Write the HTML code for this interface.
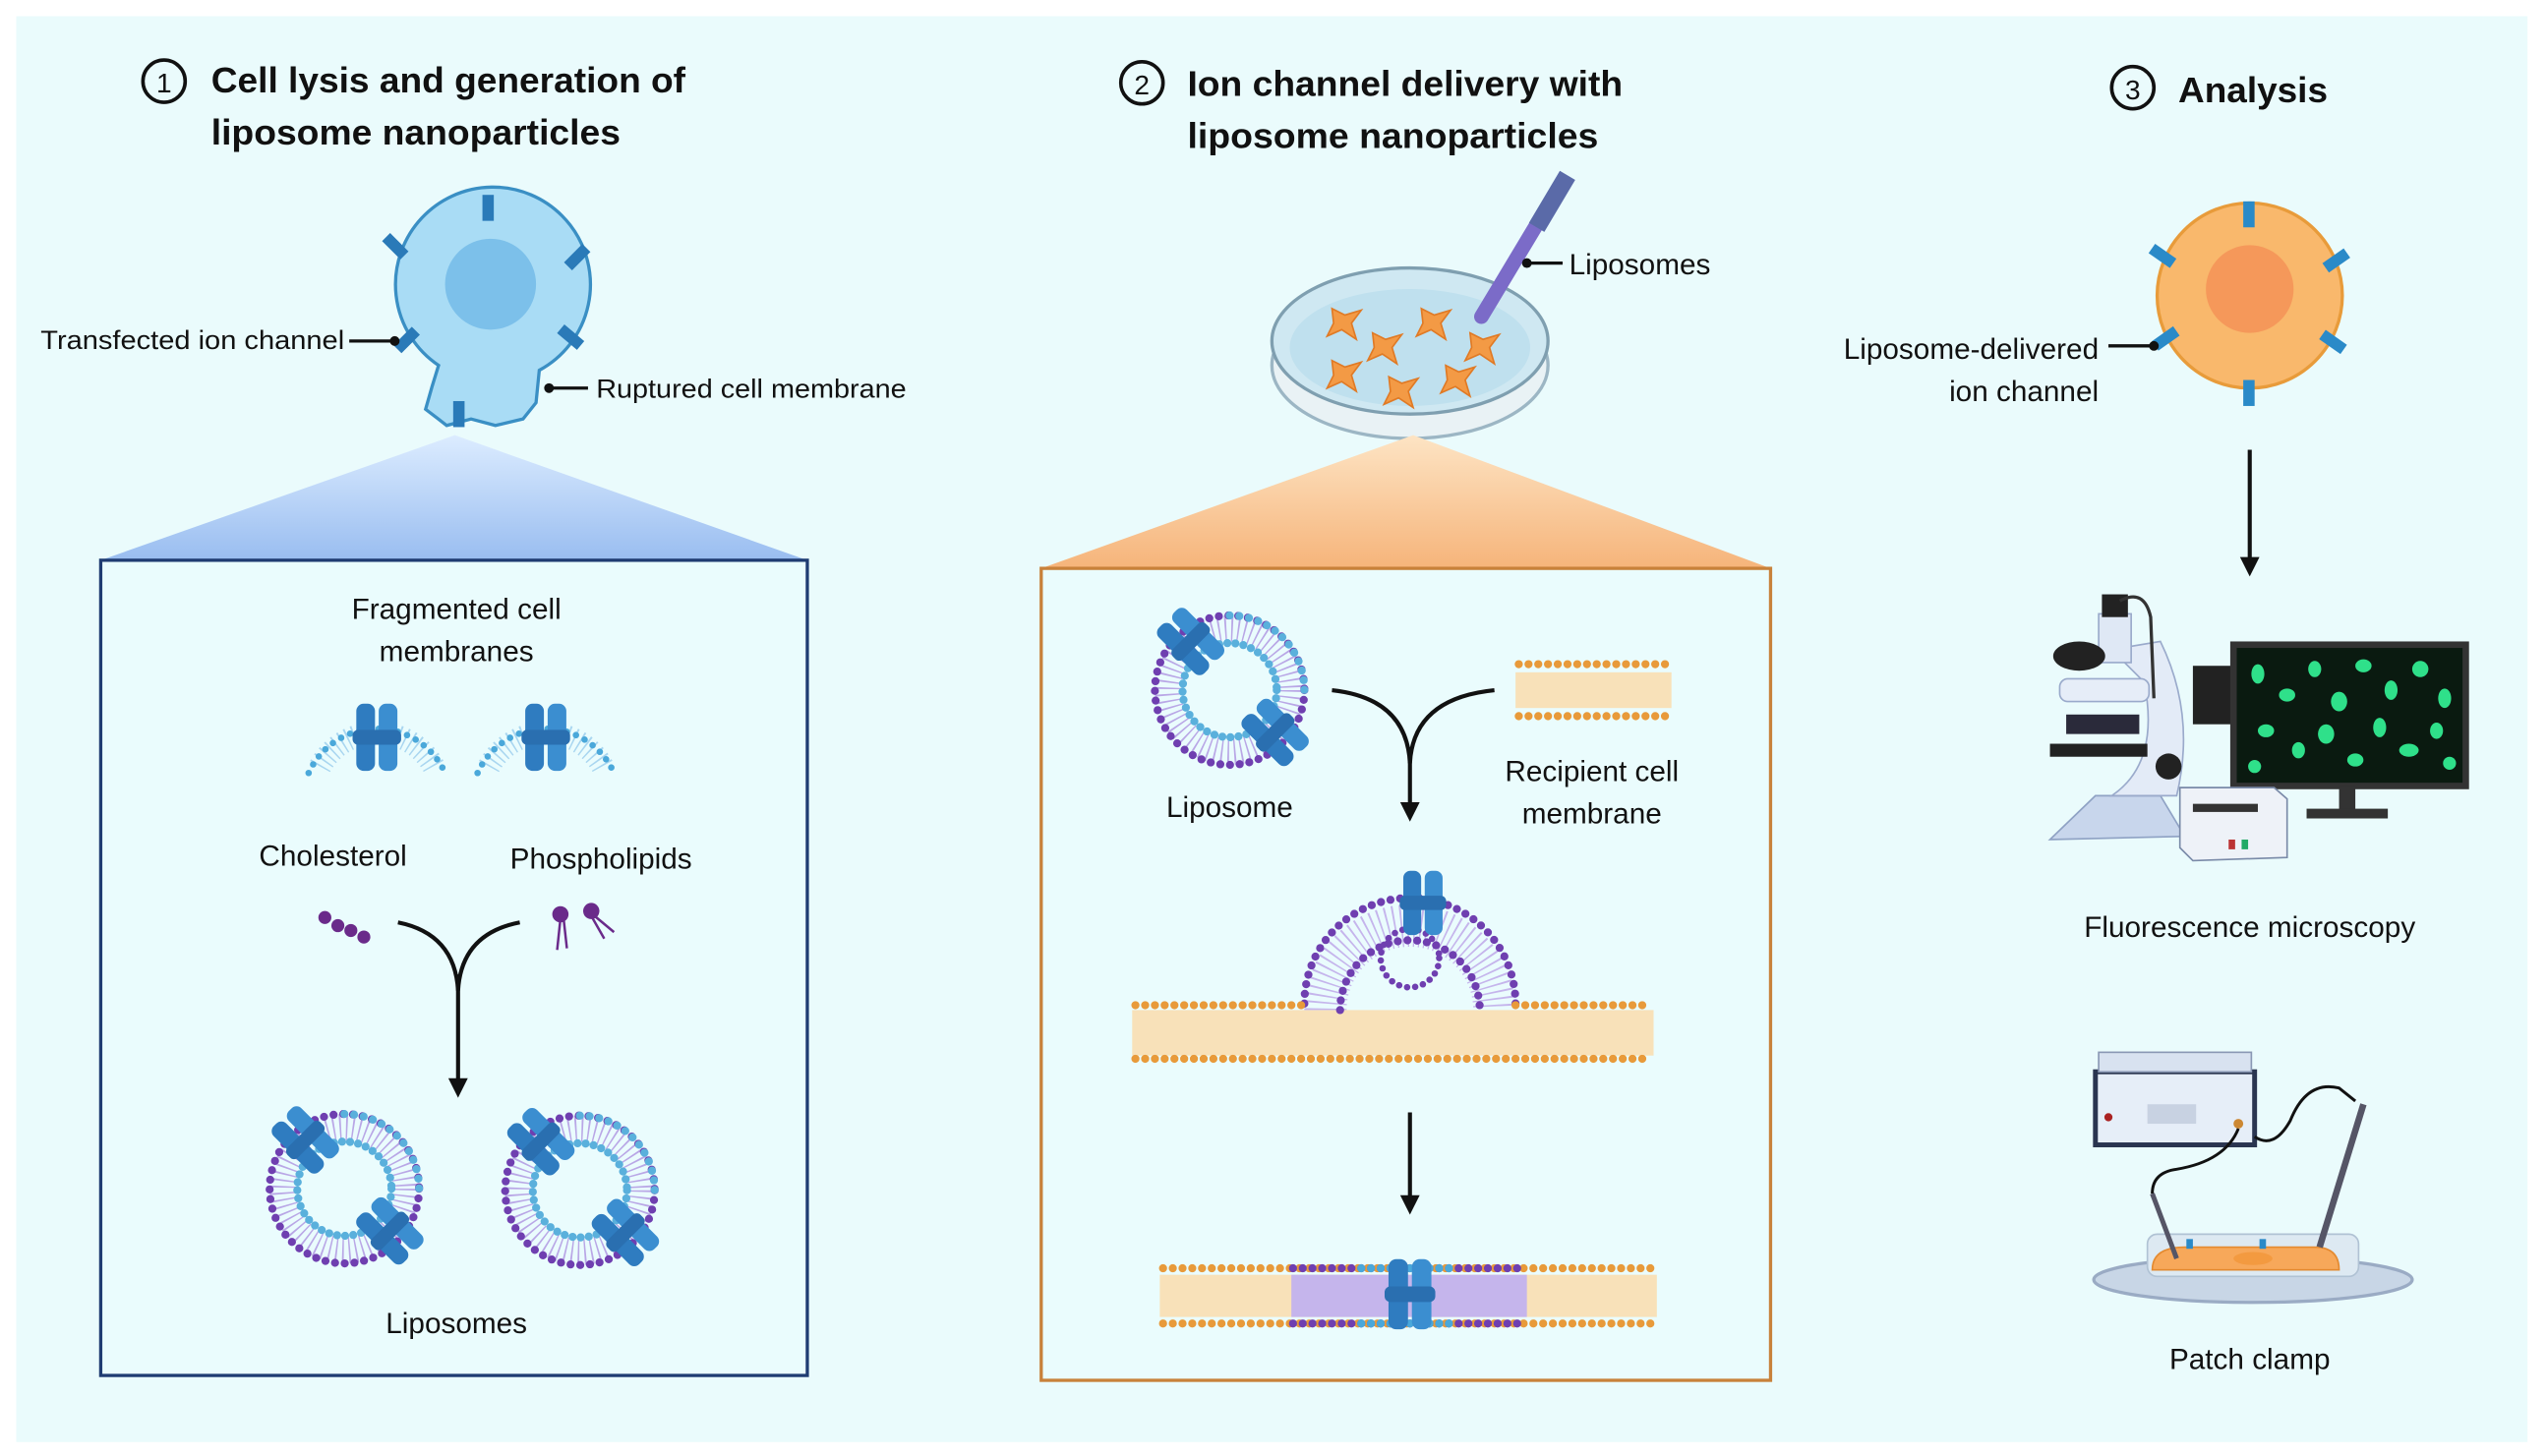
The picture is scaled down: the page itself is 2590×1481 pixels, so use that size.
<!DOCTYPE html>
<html><head><meta charset="utf-8">
<style>
html,body{margin:0;padding:0;background:#fff;}
svg{display:block;}
text{font-family:"Liberation Sans",sans-serif;fill:#111;}
.t{font-weight:bold;font-size:22px;}
.l{font-size:16px;}
.m{font-size:18px;}
</style></head><body>
<svg width="2590" height="1481" viewBox="0 0 1568 896.6" preserveAspectRatio="none" xmlns="http://www.w3.org/2000/svg">
<defs>
<linearGradient id="gb" x1="0" y1="0" x2="0" y2="1"><stop offset="0" stop-color="#dcecff"/><stop offset="1" stop-color="#99bdf0"/></linearGradient>
<linearGradient id="go" x1="0" y1="0" x2="0" y2="1"><stop offset="0" stop-color="#fde4c4"/><stop offset="1" stop-color="#f6b47a"/></linearGradient>
<g id="ch">
<rect x="-11" y="-18" width="10" height="36" rx="4" fill="#2f7cc0"/>
<rect x="1" y="-18" width="10" height="36" rx="4" fill="#3b8ed0"/>
<rect x="-13" y="-4" width="26" height="8" rx="3" fill="#2a6fb0"/>
</g>
<g id="lipo">
<circle r="38" fill="none" stroke="#b9a7e6" stroke-width="16" stroke-dasharray="1 3"/>
<circle r="46" fill="none" stroke="#6f3fb0" stroke-width="5" stroke-linecap="round" stroke-dasharray="0 6"/>
<circle r="29" fill="none" stroke="#5ab0dc" stroke-width="5" stroke-linecap="round" stroke-dasharray="0 5"/>
<path d="M0,-46 A46,46 0 0 1 46,0" fill="none" stroke="#5ab0dc" stroke-width="5" stroke-linecap="round" stroke-dasharray="0 6"/>
<use href="#ch" transform="translate(-24,-30) rotate(-45) scale(1.1)"/>
<use href="#ch" transform="translate(28,26) rotate(-45) scale(1.1)"/>
</g>
<g id="frag">
<path d="M-35,10 A40,40 0 0 1 35,10" fill="none" stroke="#a9d6f0" stroke-width="14" stroke-dasharray="1 3"/>
<path d="M-42,14 A46,46 0 0 1 42,14" fill="none" stroke="#4aa8da" stroke-width="4" stroke-linecap="round" stroke-dasharray="0 6"/>
<use href="#ch" transform="translate(0,-8) scale(1.15)"/>
</g>
</defs>
<rect x="0" y="0" width="1568" height="897" fill="#fff"/>
<rect x="10" y="10" width="1546" height="878" fill="#eafbfc"/>

<!-- Titles -->
<circle cx="101" cy="50" r="13" fill="none" stroke="#111" stroke-width="2.2"/><text x="101" y="57" text-anchor="middle" style="font-size:17px">1</text>
<text class="t" x="130" y="57" textLength="292" lengthAdjust="spacingAndGlyphs">Cell lysis and generation of</text>
<text class="t" x="130" y="89" textLength="252" lengthAdjust="spacingAndGlyphs">liposome nanoparticles</text>
<circle cx="703" cy="51" r="13" fill="none" stroke="#111" stroke-width="2.2"/><text x="703" y="58" text-anchor="middle" style="font-size:17px">2</text>
<text class="t" x="731" y="59" textLength="268" lengthAdjust="spacingAndGlyphs">Ion channel delivery with</text>
<text class="t" x="731" y="91" textLength="253" lengthAdjust="spacingAndGlyphs">liposome nanoparticles</text>
<circle cx="1313" cy="54" r="13" fill="none" stroke="#111" stroke-width="2.2"/><text x="1313" y="61" text-anchor="middle" style="font-size:17px">3</text>
<text class="t" x="1341" y="63" textLength="92" lengthAdjust="spacingAndGlyphs">Analysis</text>

<!-- Cell 1 -->
<path d="M270,225 A60,60 0 1 1 332,228 L330,248 L322,258 L305,262 L290,258 L275,262 L262,252 L266,238 Z" fill="#a9dcf5" stroke="#3a8fc4" stroke-width="2" stroke-dasharray="200 0"/>
<circle cx="302" cy="175" r="28" fill="#7cc0ea"/>
<g fill="#2a7ab8">
<rect x="297" y="120" width="7" height="16"/>
<rect x="240" y="144" width="7" height="16" transform="rotate(-45 243 152)"/>
<rect x="352" y="150" width="7" height="16" transform="rotate(45 355 158)"/>
<rect x="247" y="201" width="7" height="16" transform="rotate(45 250 209)"/>
<rect x="348" y="200" width="7" height="16" transform="rotate(-50 351 208)"/>
<rect x="279" y="247" width="7" height="16"/>
</g>
<text class="l" x="25" y="215" textLength="187" lengthAdjust="spacingAndGlyphs">Transfected ion channel</text>
<line x1="215" y1="210" x2="243" y2="210" stroke="#111" stroke-width="2"/><circle cx="243" cy="210" r="3" fill="#111"/>
<text class="l" x="367" y="245" textLength="191" lengthAdjust="spacingAndGlyphs">Ruptured cell membrane</text>
<line x1="338" y1="239" x2="362" y2="239" stroke="#111" stroke-width="2"/><circle cx="338" cy="239" r="3" fill="#111"/>

<!-- Trapezoid and box 1 -->
<polygon points="280,268 62,345 497,345" fill="url(#gb)"/>
<rect x="62" y="345" width="435" height="502" fill="#eafcfd" stroke="#1f3c72" stroke-width="2"/>
<text class="m" x="281" y="381" text-anchor="middle">Fragmented cell</text>
<text class="m" x="281" y="407" text-anchor="middle">membranes</text>
<use href="#frag" transform="translate(232,462)"/>
<use href="#frag" transform="translate(336,462)"/>
<text class="m" x="205" y="533" text-anchor="middle">Cholesterol</text>
<text class="m" x="370" y="535" text-anchor="middle">Phospholipids</text>
<g fill="#6a2a8a"><circle cx="200" cy="565" r="4"/><circle cx="208" cy="570" r="4"/><circle cx="216" cy="573" r="4"/><circle cx="224" cy="577" r="4"/><circle cx="345" cy="563" r="5"/><circle cx="364" cy="561" r="5"/></g>
<path d="M345,566 L343,585 M347,566 L349,584 M364,564 L372,578 M366,564 L378,574" stroke="#6a2a8a" stroke-width="1.5"/>
<path d="M245,568 Q280,575 282,610 Q284,575 320,568" fill="none" stroke="#111" stroke-width="2.5"/>
<line x1="282" y1="600" x2="282" y2="666" stroke="#111" stroke-width="2.5"/>
<polygon points="276,664 288,664 282,676" fill="#111"/>
<use href="#lipo" transform="translate(212,732)"/>
<use href="#lipo" transform="translate(357,733)"/>
<text class="m" x="281" y="821" text-anchor="middle">Liposomes</text>

<!-- Dish 2 -->
<ellipse cx="868" cy="225" rx="85" ry="45" fill="#e9f2f5" stroke="#9cb6c4" stroke-width="2"/>
<ellipse cx="868" cy="210" rx="85" ry="45" fill="#cfe8f2" stroke="#7f9fb0" stroke-width="2"/>
<ellipse cx="868" cy="214" rx="74" ry="36" fill="#bfe0ee"/>
<g fill="#f39a45" stroke="#e07a25" stroke-width="1">
<path d="M820,190 l8,4 l10,-3 l-6,8 l3,10 l-9,-6 l-9,4 l4,-8 z"/>
<path d="M845,205 l8,4 l10,-3 l-6,8 l3,10 l-9,-6 l-9,4 l4,-8 z"/>
<path d="M875,190 l8,4 l10,-3 l-6,8 l3,10 l-9,-6 l-9,4 l4,-8 z"/>
<path d="M905,205 l8,4 l10,-3 l-6,8 l3,10 l-9,-6 l-9,4 l4,-8 z"/>
<path d="M820,222 l8,4 l10,-3 l-6,8 l3,10 l-9,-6 l-9,4 l4,-8 z"/>
<path d="M855,232 l8,4 l10,-3 l-6,8 l3,10 l-9,-6 l-9,4 l4,-8 z"/>
<path d="M890,225 l8,4 l10,-3 l-6,8 l3,10 l-9,-6 l-9,4 l4,-8 z"/>
</g>
<line x1="960" y1="115" x2="912" y2="195" stroke="#7b6bc8" stroke-width="9" stroke-linecap="round"/>
<line x1="965" y1="108" x2="946" y2="140" stroke="#5a6aa8" stroke-width="11"/>
<line x1="940" y1="162" x2="962" y2="162" stroke="#111" stroke-width="2"/><circle cx="940" cy="162" r="3" fill="#111"/>
<text class="m" x="966" y="169">Liposomes</text>

<!-- Trapezoid and box 2 -->
<polygon points="870,268 641,350 1090,350" fill="url(#go)"/>
<rect x="641" y="350" width="449" height="500" fill="#eafcfd" stroke="#c8813a" stroke-width="2"/>
<use href="#lipo" transform="translate(757,425)"/>
<g>
<rect x="933" y="414" width="96" height="22" fill="#fbd9a8" opacity=".8"/>
<line x1="935" y1="409" x2="1028" y2="409" stroke="#e89a3a" stroke-width="5" stroke-linecap="round" stroke-dasharray="0 6"/>
<line x1="935" y1="441" x2="1028" y2="441" stroke="#e89a3a" stroke-width="5" stroke-linecap="round" stroke-dasharray="0 6"/>
</g>
<path d="M820,425 Q866,430 868,470 Q870,430 920,425" fill="none" stroke="#111" stroke-width="2.5"/>
<line x1="868" y1="460" x2="868" y2="496" stroke="#111" stroke-width="2.5"/>
<polygon points="862,494 874,494 868,506" fill="#111"/>
<text class="m" x="757" y="503" text-anchor="middle">Liposome</text>
<text class="m" x="980" y="481" text-anchor="middle">Recipient cell</text>
<text class="m" x="980" y="507" text-anchor="middle">membrane</text>
<!-- fusion -->
<rect x="697" y="622" width="321" height="28" fill="#fbd9a8" opacity=".8"/>
<path d="M816,622 A52,52 0 0 1 920,622" fill="none" stroke="#c5b5ec" stroke-width="26" stroke-dasharray="1 3"/>
<path d="M803,618 A65,65 0 0 1 933,618" fill="none" stroke="#6f3fb0" stroke-width="5" stroke-linecap="round" stroke-dasharray="0 6"/>
<path d="M825,622 A43,43 0 0 1 911,622" fill="none" stroke="#6f3fb0" stroke-width="5" stroke-linecap="round" stroke-dasharray="0 6"/>
<circle cx="868" cy="590" r="18" fill="none" stroke="#6f3fb0" stroke-width="4" stroke-dasharray="0 5" stroke-linecap="round"/>
<use href="#ch" transform="translate(876,556) scale(1.1)"/>
<line x1="699" y1="619" x2="803" y2="619" stroke="#e89a3a" stroke-width="5" stroke-linecap="round" stroke-dasharray="0 6"/>
<line x1="933" y1="619" x2="1016" y2="619" stroke="#e89a3a" stroke-width="5" stroke-linecap="round" stroke-dasharray="0 6"/>
<line x1="699" y1="652" x2="1016" y2="652" stroke="#e89a3a" stroke-width="5" stroke-linecap="round" stroke-dasharray="0 6"/>
<line x1="868" y1="685" x2="868" y2="738" stroke="#111" stroke-width="2.5"/>
<polygon points="862,736 874,736 868,748" fill="#111"/>
<!-- bottom membrane -->
<rect x="714" y="785" width="306" height="26" fill="#fbd9a8" opacity=".8"/>
<rect x="795" y="785" width="145" height="26" fill="#c5b5ec"/>
<line x1="716" y1="781" x2="1018" y2="781" stroke="#e89a3a" stroke-width="5" stroke-linecap="round" stroke-dasharray="0 6"/>
<line x1="716" y1="815" x2="1018" y2="815" stroke="#e89a3a" stroke-width="5" stroke-linecap="round" stroke-dasharray="0 6"/>
<line x1="796" y1="781" x2="940" y2="781" stroke="#6f3fb0" stroke-width="5" stroke-linecap="round" stroke-dasharray="0 6"/>
<line x1="796" y1="815" x2="940" y2="815" stroke="#6f3fb0" stroke-width="5" stroke-linecap="round" stroke-dasharray="0 6"/>
<line x1="838" y1="781" x2="898" y2="781" stroke="#4aa8da" stroke-width="5" stroke-linecap="round" stroke-dasharray="0 6"/>
<line x1="838" y1="815" x2="898" y2="815" stroke="#4aa8da" stroke-width="5" stroke-linecap="round" stroke-dasharray="0 6"/>
<use href="#ch" transform="translate(868,797) scale(1.2)"/>

<!-- Cell 3 -->
<circle cx="1385" cy="182" r="57" fill="#f9b86c" stroke="#e89b3a" stroke-width="2"/>
<circle cx="1385" cy="178" r="27" fill="#f5985a"/>
<g fill="#2a8ac8">
<rect x="1381" y="124" width="7" height="16"/>
<rect x="1381" y="234" width="7" height="16"/>
<rect x="1328" y="150" width="7" height="16" transform="rotate(-55 1331 158)"/>
<rect x="1435" y="152" width="7" height="16" transform="rotate(55 1438 160)"/>
<rect x="1330" y="200" width="7" height="16" transform="rotate(55 1333 208)"/>
<rect x="1433" y="203" width="7" height="16" transform="rotate(-55 1436 211)"/>
</g>
<text class="m" x="1292" y="221" text-anchor="end">Liposome-delivered</text>
<text class="m" x="1292" y="247" text-anchor="end">ion channel</text>
<line x1="1298" y1="213" x2="1326" y2="213" stroke="#111" stroke-width="2"/><circle cx="1326" cy="213" r="3" fill="#111"/>
<line x1="1385" y1="277" x2="1385" y2="345" stroke="#111" stroke-width="2.5"/>
<polygon points="1379,343 1391,343 1385,355" fill="#111"/>

<!-- Microscope -->
<g>
<path d="M1262,517 L1290,490 L1330,490 L1345,515 Z" fill="#c8d6ec" stroke="#8fa2c4"/>
<path d="M1300,490 Q1330,470 1320,420 L1300,400 L1330,395 Q1352,440 1340,490 Z" fill="#e3ebf7" stroke="#9aaacb"/>
<rect x="1292" y="378" width="20" height="30" fill="#dfe8f5" stroke="#9aaacb"/>
<rect x="1294" y="366" width="16" height="14" fill="#222"/>
<ellipse cx="1280" cy="404" rx="16" ry="9" fill="#222"/>
<rect x="1268" y="418" width="55" height="14" rx="5" fill="#e6edf8" stroke="#9aaacb"/>
<rect x="1272" y="440" width="45" height="12" fill="#2a2a3a"/>
<rect x="1262" y="458" width="60" height="8" fill="#222"/>
<circle cx="1335" cy="472" r="8" fill="#222"/>
<path d="M1305,370 Q1320,362 1324,380 L1326,430" fill="none" stroke="#333" stroke-width="2"/>
<rect x="1350" y="410" width="37" height="36" fill="#222"/>
<line x1="1387" y1="430" x2="1400" y2="430" stroke="#556" stroke-width="2"/>
<rect x="1375" y="397" width="143" height="87" fill="#0a1a10" stroke="#333" stroke-width="4"/>
<g fill="#2fe08a">
<ellipse cx="1390" cy="415" rx="4" ry="6"/><ellipse cx="1408" cy="428" rx="5" ry="4"/><ellipse cx="1425" cy="412" rx="4" ry="5"/><ellipse cx="1440" cy="432" rx="5" ry="6"/><ellipse cx="1455" cy="410" rx="5" ry="4"/><ellipse cx="1472" cy="425" rx="4" ry="6"/><ellipse cx="1490" cy="412" rx="5" ry="5"/><ellipse cx="1505" cy="430" rx="4" ry="6"/><ellipse cx="1395" cy="450" rx="5" ry="4"/><ellipse cx="1415" cy="462" rx="4" ry="5"/><ellipse cx="1432" cy="452" rx="5" ry="6"/><ellipse cx="1450" cy="468" rx="5" ry="4"/><ellipse cx="1465" cy="448" rx="4" ry="6"/><ellipse cx="1483" cy="462" rx="6" ry="4"/><ellipse cx="1500" cy="450" rx="4" ry="5"/><ellipse cx="1508" cy="470" rx="4" ry="4"/><ellipse cx="1388" cy="472" rx="4" ry="4"/>
</g>
<rect x="1440" y="484" width="10" height="16" fill="#333"/>
<rect x="1420" y="498" width="50" height="6" fill="#333"/>
<path d="M1342,485 L1400,485 L1408,492 L1408,528 L1350,530 L1342,522 Z" fill="#eef2f8" stroke="#7a8aa8"/>
<rect x="1350" y="495" width="40" height="5" fill="#333"/>
<rect x="1372" y="517" width="4" height="6" fill="#b33"/><rect x="1380" y="517" width="4" height="6" fill="#2a6"/>
</g>
<text class="m" x="1385" y="577" text-anchor="middle">Fluorescence microscopy</text>

<!-- Patch clamp -->
<rect x="1290" y="660" width="98" height="45" fill="#e6eef8" stroke="#2a3550" stroke-width="3"/>
<rect x="1292" y="648" width="94" height="12" fill="#d8e2f0" stroke="#8a98b4"/>
<rect x="1322" y="680" width="30" height="12" fill="#c8d2e2"/>
<circle cx="1298" cy="688" r="2.5" fill="#a22"/><circle cx="1378" cy="692" r="3" fill="#c83"/>
<path d="M1378,695 Q1370,715 1340,720 Q1325,722 1325,735" fill="none" stroke="#111" stroke-width="1.8"/>
<path d="M1388,700 Q1400,708 1410,690 Q1420,665 1440,670 L1450,678" fill="none" stroke="#111" stroke-width="1.8"/>
<ellipse cx="1387" cy="788" rx="98" ry="14" fill="#c8d6e6" stroke="#9aabc4" stroke-width="2"/>
<rect x="1322" y="760" width="130" height="26" rx="6" fill="#dde9f2" stroke="#b0c2d4"/>
<path d="M1325,782 Q1325,768 1345,768 L1425,768 Q1440,768 1440,782 Z" fill="#f7a85a" stroke="#e48a30"/>
<ellipse cx="1387" cy="775" rx="12" ry="4" fill="#f39a40"/>
<rect x="1346" y="763" width="4" height="6" fill="#2a8ac8"/><rect x="1391" y="763" width="4" height="6" fill="#2a8ac8"/>
<line x1="1325" y1="735" x2="1340" y2="775" stroke="#556" stroke-width="3"/>
<line x1="1455" y1="680" x2="1428" y2="768" stroke="#556" stroke-width="4"/>
<text class="m" x="1385" y="843" text-anchor="middle">Patch clamp</text>
</svg>
</body></html>
